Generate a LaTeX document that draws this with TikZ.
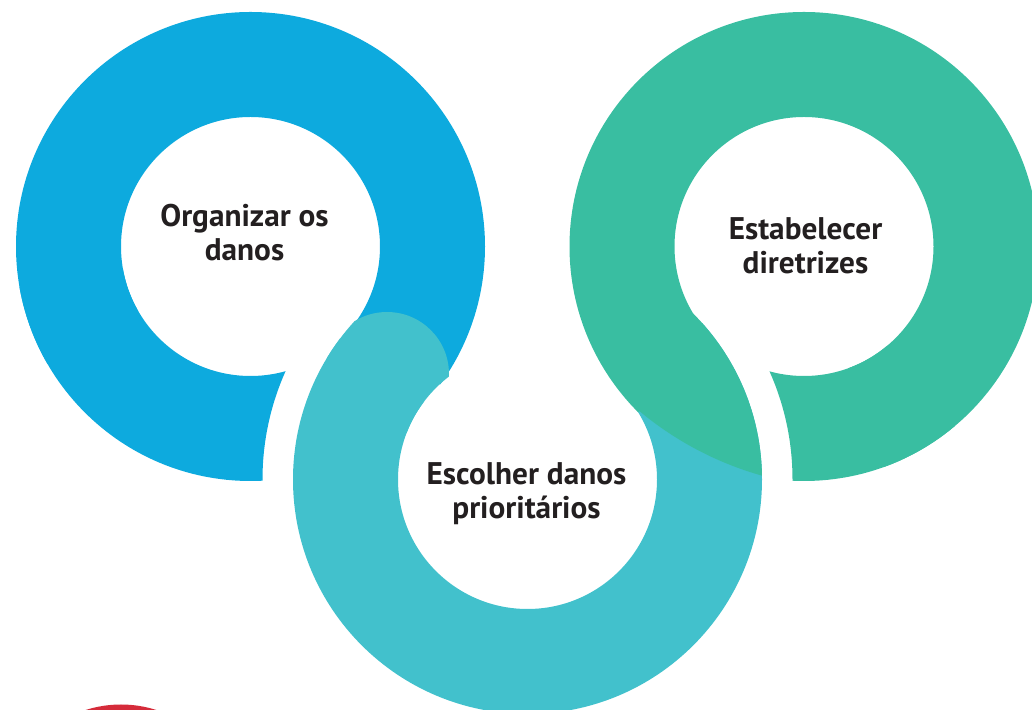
\documentclass[tikz,border=0pt]{standalone}
\usepackage{fontspec}
\setmainfont{PT Sans}
\usepackage{tikz}

\definecolor{ringblue}{HTML}{0DAADE}
\definecolor{ringteal}{HTML}{42C1CC}
\definecolor{ringgreen}{HTML}{39BEA1}
\definecolor{badgered}{HTML}{D52B3A}
\definecolor{labelink}{HTML}{231F20}

\begin{document}
\begin{tikzpicture}[x=0.02cm,y=0.02cm]
  \tikzstyle{ringtext}=[align=center, inner sep=0pt, text=labelink, font=\bfseries\fontsize{17.8}{19.4}\selectfont]
  \tikzstyle{blueband}=[fill=ringblue]
  \tikzstyle{tealband}=[fill=ringteal]
  \tikzstyle{greenband}=[fill=ringgreen]
  \useasboundingbox (0,0) rectangle (1032,710);
  \clip (0,0) rectangle (1032,710);
  % ring centres, outer radius 234.5, hole 129.5
  \coordinate (c0) at (250.5,463.5);
  \coordinate (c1) at (527.5,230.5);
  \coordinate (c2) at (804,463.5);

  % blue ring, its start is cut by the gap round c1
  \begin{scope}[even odd rule]
    \clip (c0) circle[radius=234.5] (c0) circle[radius=129.5];
    \fill[blueband] (c0) -- ++(-36:300) arc[start angle=-36, end angle=210, radius=300] -- cycle;
    \clip (-100,-100) rectangle (1200,900) (c1) circle[radius=265];
    \fill[blueband] (c0) -- ++(190:300) arc[start angle=190, end angle=290, radius=300] -- cycle;
  \end{scope}

  % teal ring, rounded head lies over the blue one
  \begin{scope}[even odd rule]
    \clip (c1) circle[radius=234.5] (c1) circle[radius=129.5];
    \fill[tealband] (c1) -- ++(143:300) arc[start angle=143, end angle=402, radius=300] -- cycle;
    \fill[tealband] ([shift={(143.1:175.7)}]c1) circle[radius=62];
  \end{scope}

  % green ring
  \begin{scope}[even odd rule]
    \clip (c2) circle[radius=234.5] (c2) circle[radius=129.5];
    \fill[greenband] (c2) -- ++(-70:300) arc[start angle=-70, end angle=225, radius=300] -- cycle;
    \clip (-100,-100) rectangle (1200,900) (c1) circle[radius=265];
    \fill[greenband] (c2) -- ++(-115:300) arc[start angle=-115, end angle=-50, radius=300] -- cycle;
  \end{scope}
  % green tail running down over the teal ring
  \begin{scope}[even odd rule]
    \clip (c1) circle[radius=234.5] (c1) circle[radius=129.5];
    \clip (852.6,555.5) circle[radius=333.6];
    \fill[greenband] (c1) -- ++(0:300) arc[start angle=0, end angle=45, radius=300] -- cycle;
  \end{scope}

  \fill[badgered] (121,-110.5) circle[radius=116];

  \node[ringtext] (l0) at (244.5,477) {Organizar os\\danos};
  \node[ringtext] (l1) at (526.5,216) {Escolher danos\\prioritários};
  \node[ringtext] (l2) at (805.5,464.5) {Estabelecer\\diretrizes};
\end{tikzpicture}
\end{document}
